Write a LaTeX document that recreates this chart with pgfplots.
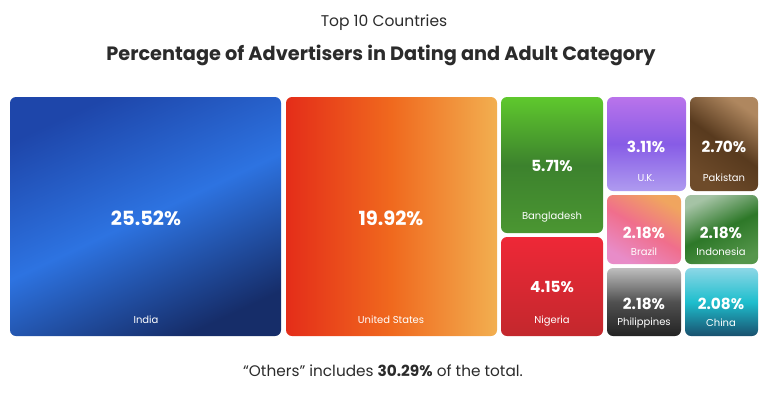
\documentclass[border=0pt]{standalone}
\usepackage{pgfplots}
\pgfplotsset{compat=1.18}
\usepackage{fontspec}
\setmainfont{Poppins}
\definecolor{txt}{HTML}{2B2B2B}
\begin{document}
\begin{tikzpicture}
\begin{axis}[scale only axis, width=768pt, height=397pt,
  xmin=0, xmax=768, ymin=0, ymax=397, y dir=reverse,
  hide axis, clip=false]
\path (axis cs:0,0) rectangle (axis cs:768,397);
% India
\addplot[draw=none, rounded corners=6pt, top color={rgb,255:red,30;green,70;blue,170}, bottom color={rgb,255:red,22;green,45;blue,105}, middle color={rgb,255:red,45;green,115;blue,225}, shading angle=25] coordinates {(10,97) (281,97) (281,336) (10,336)} -- cycle;
% United States
\addplot[draw=none, rounded corners=6pt, left color={rgb,255:red,228;green,45;blue,25}, right color={rgb,255:red,242;green,175;blue,80}, middle color={rgb,255:red,240;green,105;blue,30}] coordinates {(286,97) (497,97) (497,336) (286,336)} -- cycle;
% Bangladesh
\addplot[draw=none, rounded corners=6pt, top color={rgb,255:red,95;green,200;blue,45}, bottom color={rgb,255:red,75;green,150;blue,50}, middle color={rgb,255:red,60;green,130;blue,45}] coordinates {(501,97) (603,97) (603,233) (501,233)} -- cycle;
% Nigeria
\addplot[draw=none, rounded corners=6pt, top color={rgb,255:red,238;green,40;blue,55}, bottom color={rgb,255:red,195;green,40;blue,45}] coordinates {(501,237) (603,237) (603,336) (501,336)} -- cycle;
% U.K.
\addplot[draw=none, rounded corners=6pt, top color={rgb,255:red,185;green,115;blue,235}, bottom color={rgb,255:red,175;green,155;blue,240}, middle color={rgb,255:red,135;green,92;blue,230}] coordinates {(607,97) (686,97) (686,191) (607,191)} -- cycle;
% Pakistan
\addplot[draw=none, rounded corners=6pt, top color={rgb,255:red,175;green,135;blue,95}, bottom color={rgb,255:red,110;green,75;blue,42}, middle color={rgb,255:red,88;green,58;blue,30}, shading angle=-35] coordinates {(690,97) (758,97) (758,191) (690,191)} -- cycle;
% Brazil
\addplot[draw=none, rounded corners=6pt, top color={rgb,255:red,240;green,165;blue,95}, bottom color={rgb,255:red,232;green,140;blue,200}, middle color={rgb,255:red,240;green,110;blue,140}, shading angle=-30] coordinates {(607,195) (681,195) (681,264) (607,264)} -- cycle;
% Indonesia
\addplot[draw=none, rounded corners=6pt, top color={rgb,255:red,165;green,195;blue,165}, bottom color={rgb,255:red,85;green,150;blue,75}, middle color={rgb,255:red,45;green,120;blue,40}, shading angle=25] coordinates {(685,195) (758,195) (758,264) (685,264)} -- cycle;
% Philippines
\addplot[draw=none, rounded corners=6pt, top color={rgb,255:red,190;green,190;blue,190}, bottom color={rgb,255:red,35;green,35;blue,35}, middle color={rgb,255:red,80;green,80;blue,80}] coordinates {(607,268) (681,268) (681,336) (607,336)} -- cycle;
% China
\addplot[draw=none, rounded corners=6pt, top color={rgb,255:red,140;green,215;blue,230}, bottom color={rgb,255:red,25;green,80;blue,110}, middle color={rgb,255:red,30;green,190;blue,205}] coordinates {(685,268) (758,268) (758,336) (685,336)} -- cycle;

% titles
\node[font=\fontsize{15.5}{18}\selectfont, text=txt] at (axis cs:384,23) {Top 10 Countries};
\node[font=\fontsize{19.3}{22}\selectfont\bfseries, text=txt] at (axis cs:381,55) {Percentage of Advertisers in Dating and Adult Category};
\node[font=\fontsize{15.3}{18}\selectfont, text=txt] at (axis cs:383,371) {“Others” includes \textbf{30.29\%} of the total.};

% values
\tikzset{val/.style={font=\fontsize{19.5}{22}\selectfont\bfseries, text=white}, sval/.style={font=\fontsize{15.3}{18}\selectfont\bfseries, text=white}, nm/.style={font=\fontsize{10}{12}\selectfont, text=white}}
\node[val] at (axis cs:146,218) {25.52\%};
\node[nm] at (axis cs:146,320) {India};
\node[val] at (axis cs:391,218) {19.92\%};
\node[nm] at (axis cs:391,320) {United States};
\node[sval] at (axis cs:552,166) {5.71\%};
\node[nm] at (axis cs:552,217) {Bangladesh};
\node[sval] at (axis cs:552,287) {4.15\%};
\node[nm] at (axis cs:552,321) {Nigeria};
\node[sval] at (axis cs:646,147) {3.11\%};
\node[nm] at (axis cs:646,178) {U.K.};
\node[sval] at (axis cs:724,147) {2.70\%};
\node[nm] at (axis cs:724,178) {Pakistan};
\node[sval] at (axis cs:644,233) {2.18\%};
\node[nm] at (axis cs:644,252) {Brazil};
\node[sval] at (axis cs:721,233) {2.18\%};
\node[nm] at (axis cs:721,252) {Indonesia};
\node[sval] at (axis cs:644,304) {2.18\%};
\node[nm] at (axis cs:644,323) {Philippines};
\node[sval] at (axis cs:721,304) {2.08\%};
\node[nm] at (axis cs:721,323) {China};
\end{axis}
\end{tikzpicture}
\end{document}
